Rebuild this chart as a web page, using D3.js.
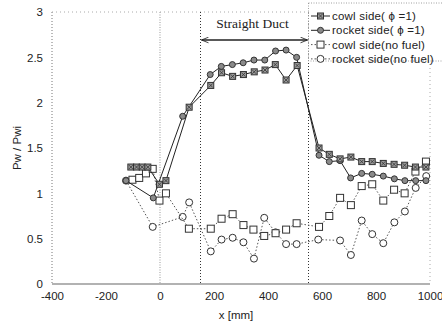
<!DOCTYPE html>
<html>
<head>
<meta charset="utf-8">
<script src="https://cdn.jsdelivr.net/npm/d3@7"></script>
<style>
  html, body { margin: 0; padding: 0; background: #fff; overflow: hidden; }
  svg { display: block; font-family: "Liberation Sans", Arial, sans-serif; }
</style>
</head>
<body>
<svg id="chart" width="442" height="325"></svg>
<script>
// Wall pressure ratio along the duct, x in mm
const cowlPhiX   = [-108, -87, -66, -45, -2, 22, 108, 188, 228, 269, 309, 349, 389, 427, 467, 508, 589, 627, 667, 707, 747, 786, 827, 867, 906, 946, 985];
const cowlPhiY   = [1.29, 1.29, 1.29, 1.29, 1.10, 1.14, 1.95, 2.19, 2.33, 2.29, 2.31, 2.34, 2.36, 2.42, 2.25, 2.41, 1.50, 1.43, 1.38, 1.40, 1.35, 1.35, 1.33, 1.32, 1.31, 1.29, 1.29];

const rocketPhiX = [-126, -25, 84, 186, 227, 268, 308, 348, 388, 428, 467, 506, 589, 627, 667, 706, 747, 786, 827, 868, 907, 947, 985];
const rocketPhiY = [1.14, 0.95, 1.85, 2.31, 2.40, 2.42, 2.44, 2.47, 2.47, 2.57, 2.58, 2.50, 1.42, 1.35, 1.36, 1.17, 1.22, 1.21, 1.19, 1.16, 1.14, 1.14, 1.14];

const cowlNoX    = [-102, -77, -52, -27, -2, 22, 107, 188, 228, 269, 309, 346, 386, 428, 467, 506, 589, 627, 667, 707, 747, 786, 827, 867, 906, 946, 985];
const cowlNoY    = [1.15, 1.17, 1.22, 1.27, 0.92, 1.00, 0.61, 0.61, 0.72, 0.77, 0.65, 0.60, 0.53, 0.56, 0.60, 0.67, 0.63, 0.75, 0.95, 0.87, 1.08, 1.10, 0.92, 1.04, 1.00, 1.24, 1.35];

const rocketNoX  = [-126, -27, 84, 108, 188, 228, 269, 309, 348, 386, 428, 467, 506, 586, 667, 707, 747, 786, 827, 868, 907, 947, 986];
const rocketNoY  = [1.14, 0.63, 0.74, 0.90, 0.36, 0.49, 0.51, 0.46, 0.28, 0.73, 0.57, 0.44, 0.44, 0.49, 0.48, 0.32, 0.70, 0.55, 0.45, 0.68, 0.80, 1.06, 1.19];

const xTicks = [-400, -200, 0, 200, 400, 600, 800, 1000];
const yTicks = [0, 0.5, 1, 1.5, 2, 2.5, 3];
const ductStart = 150, ductEnd = 550;
const legendLabels = ["cowl side( \u03D5 =1)", "rocket side( \u03D5 =1)", "cowl side(no fuel)", "rocket side(no fuel)"];

const svg = d3.select("#chart");
const x = d3.scaleLinear().domain([-400, 1000]).range([52, 430]);
const y = d3.scaleLinear().domain([0, 3]).range([284, 12]);

const zip = (xs, ys) => xs.map((v, i) => [v, ys[i]]);
const series = [
  { pts: zip(cowlPhiX, cowlPhiY),     shape: "square", filled: true,  dash: null },
  { pts: zip(rocketPhiX, rocketPhiY), shape: "circle", filled: true,  dash: null },
  { pts: zip(cowlNoX, cowlNoY),       shape: "square", filled: false, dash: "1.5,2" },
  { pts: zip(rocketNoX, rocketNoY),   shape: "circle", filled: false, dash: "1.5,2" }
];

// Frame: dotted left/top/right edges, solid baseline
const g = svg.append("g");
g.append("line").attr("x1", x(-400)).attr("x2", x(-400)).attr("y1", y(3)).attr("y2", y(0))
  .attr("stroke", "#777").attr("stroke-width", 1).attr("stroke-dasharray", "1,2");
g.append("line").attr("x1", x(-400)).attr("x2", x(1000)).attr("y1", y(3)).attr("y2", y(3))
  .attr("stroke", "#aaa").attr("stroke-width", 1).attr("stroke-dasharray", "1,3");
g.append("line").attr("x1", x(1000)).attr("x2", x(1000)).attr("y1", y(3)).attr("y2", y(0))
  .attr("stroke", "#aaa").attr("stroke-width", 1).attr("stroke-dasharray", "1,3");
g.append("line").attr("x1", x(-400)).attr("x2", x(1000)).attr("y1", y(0)).attr("y2", y(0))
  .attr("stroke", "#666").attr("stroke-width", 1.2);

// Reference lines at x = 0 and at the straight duct ends
g.append("line").attr("x1", x(0)).attr("x2", x(0)).attr("y1", y(3)).attr("y2", y(0))
  .attr("stroke", "#aaa").attr("stroke-width", 1.2).attr("stroke-dasharray", "1,1.5");
[ductStart, ductEnd].forEach(v => {
  g.append("line").attr("x1", x(v)).attr("x2", x(v)).attr("y1", y(3)).attr("y2", y(0))
    .attr("stroke", "#333").attr("stroke-width", 1).attr("stroke-dasharray", "1,2");
});

// Axes
const axisFont = sel => sel.selectAll("text")
  .style("font-family", "'Liberation Sans', Arial, sans-serif").style("font-size", "11.5px").attr("fill", "#222");

const xAxis = d3.axisBottom(x).tickValues(xTicks).tickSize(0).tickPadding(8).tickFormat(d => String(d));
const xg = svg.append("g").attr("transform", `translate(0,${y(0)})`).call(xAxis);
xg.select(".domain").remove();
axisFont(xg);

const yAxis = d3.axisLeft(y).tickValues(yTicks).tickSize(0).tickPadding(9).tickFormat(d => String(d));
const yg = svg.append("g").attr("transform", `translate(${x(-400)},0)`).call(yAxis);
yg.select(".domain").remove();
axisFont(yg);

svg.append("text").attr("x", (x(-400) + x(1000)) / 2 - 5).attr("y", 319)
  .attr("text-anchor", "middle").style("font-size", "11.5px").attr("fill", "#222").text("x [mm]");
svg.append("text").attr("transform", `translate(21,${y(1.5)}) rotate(-90)`)
  .attr("text-anchor", "middle").style("font-size", "11.5px").attr("fill", "#222").text("Pw / Pwi");

// Straight duct span arrow
const defs = svg.append("defs");
["s", "e"].forEach(id => {
  defs.append("marker").attr("id", "arr-" + id).attr("viewBox", "0 0 10 10")
    .attr("refX", id === "e" ? 10 : 0).attr("refY", 5).attr("markerWidth", 9).attr("markerHeight", 7)
    .attr("markerUnits", "userSpaceOnUse").attr("orient", "auto")
    .append("path")
    .attr("d", id === "e" ? "M0,1 L10,5 L0,9" : "M10,1 L0,5 L10,9")
    .attr("fill", "none").attr("stroke", "#222").attr("stroke-width", 1.2);
});
svg.append("line").attr("x1", x(ductStart) + 1).attr("x2", x(ductEnd) - 1)
  .attr("y1", 40).attr("y2", 40).attr("stroke", "#222").attr("stroke-width", 1.4)
  .attr("marker-start", "url(#arr-s)").attr("marker-end", "url(#arr-e)");
svg.append("text").attr("x", (x(ductStart) + x(ductEnd)) / 2 - 2).attr("y", 28)
  .attr("text-anchor", "middle").attr("fill", "#222")
  .style("font-family", "'Liberation Serif', 'Times New Roman', serif").style("font-size", "13.5px")
  .text("Straight Duct");

// Markers
function drawMarker(sel, s, cx, cy, size) {
  if (s.shape === "square") {
    const h = size / 2;
    sel.append("rect").attr("x", cx - h).attr("y", cy - h).attr("width", size).attr("height", size)
      .attr("fill", s.filled ? "#9a9a9a" : "#fff").attr("stroke", "#333").attr("stroke-width", 1);
    if (s.filled) {
      sel.append("path")
        .attr("d", `M${cx - h + 1},${cy - h + 1}L${cx + h - 1},${cy + h - 1}M${cx + h - 1},${cy - h + 1}L${cx - h + 1},${cy + h - 1}`)
        .attr("stroke", "#333").attr("stroke-width", 0.8);
    }
  } else {
    sel.append("circle").attr("cx", cx).attr("cy", cy).attr("r", size / 2)
      .attr("fill", s.filled ? "#8a8a8a" : "#fff").attr("stroke", "#333").attr("stroke-width", 1);
  }
}

const line = d3.line().x(d => x(d[0])).y(d => y(d[1]));
// no-fuel series underneath, fueled series on top
[3, 2, 1, 0].forEach(i => {
  const s = series[i];
  const sg = svg.append("g");
  sg.append("path").datum(s.pts).attr("d", line).attr("fill", "none")
    .attr("stroke", s.dash ? "#555" : "#222").attr("stroke-width", 1)
    .attr("stroke-dasharray", s.dash);
  s.pts.forEach(p => drawMarker(sg, s, x(p[0]), y(p[1]), s.filled ? 6 : 7));
});

// Legend
const lg = svg.append("g");
lg.append("rect").attr("x", x(ductEnd)).attr("y", 3).attr("width", 150).attr("height", 58)
  .attr("fill", "#fff").attr("stroke", "#888").attr("stroke-width", 0.8).attr("stroke-dasharray", "1,1.5");
legendLabels.forEach((lab, i) => {
  const s = series[i];
  const yy = 16 + i * 14.3;
  lg.append("line").attr("x1", 311).attr("x2", 330).attr("y1", yy).attr("y2", yy)
    .attr("stroke", s.dash ? "#555" : "#222").attr("stroke-width", 1).attr("stroke-dasharray", s.dash);
  drawMarker(lg, s, 320.5, yy, s.filled ? 6 : 7);
  lg.append("text").attr("x", 332).attr("y", yy + 4).attr("fill", "#222")
    .style("font-size", "11.5px").style("letter-spacing", "0.2px").text(lab);
});
</script>
</body>
</html>
